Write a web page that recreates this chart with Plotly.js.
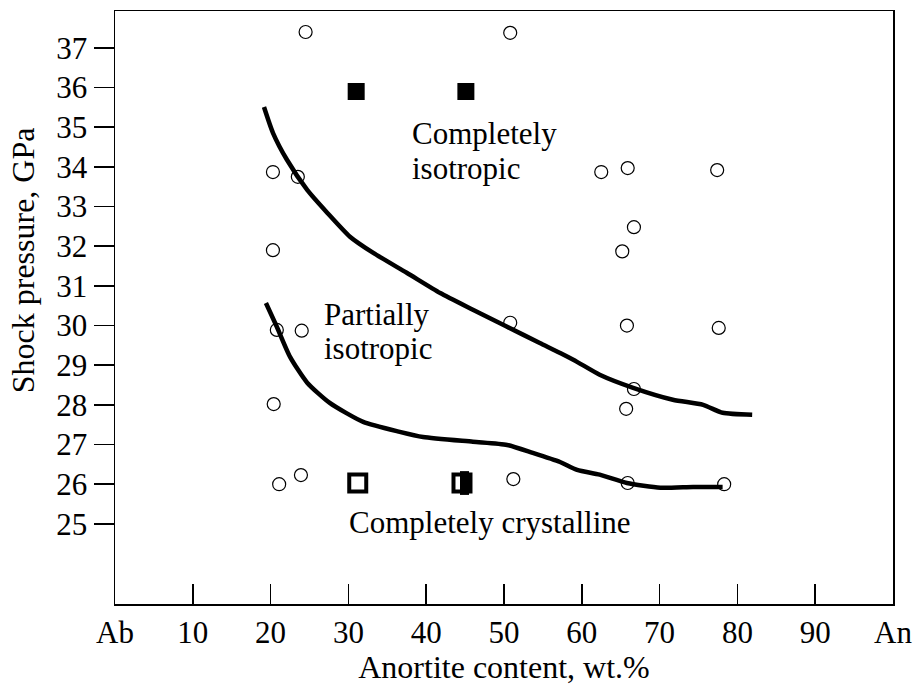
<!DOCTYPE html>
<html>
<head>
<meta charset="utf-8">
<script src="https://cdn.plot.ly/plotly-3.0.1.min.js"></script>
<style>html,body{margin:0;padding:0;background:#fff;}#chart{width:914px;height:685px;}</style>
</head>
<body>
<div id="chart"></div>
<script>
// Open circles (experimental points)
const circleX = [24.5, 50.8, 20.3, 23.5, 62.5, 65.9, 77.4, 66.7, 65.2, 20.3, 20.8, 24.0, 50.8, 65.8, 77.6, 66.7, 65.7, 20.4, 21.1, 23.9, 51.2, 65.9, 78.3];
const circleY = [37.4, 37.38, 33.87, 33.75, 33.87, 33.97, 33.92, 32.48, 31.87, 31.9, 29.89, 29.87, 30.07, 30.0, 29.94, 28.4, 27.9, 28.02, 26.0, 26.23, 26.13, 26.03, 26.0];
// Filled squares (completely isotropic)
const filledX = [31.0, 45.1];
const filledY = [35.9, 35.9];
// Open square (completely crystalline)
const openSqX = [31.2];
const openSqY = [26.03];
// Half-filled square (partially isotropic)
const halfX = [44.6];
const halfY = [26.03];
// Upper boundary curve
const upperX = [19.15, 20.3, 22.1, 24.7, 27.3, 30.2, 33.2, 37.5, 41.8, 46.0, 50.4, 54.6, 58.9, 62.3, 66.6, 71.7, 75.6, 78.1, 81.9];
const upperY = [35.51, 34.86, 34.18, 33.42, 32.84, 32.24, 31.83, 31.33, 30.82, 30.40, 29.97, 29.56, 29.14, 28.76, 28.43, 28.13, 28.00, 27.80, 27.75];
// Lower boundary curve
const lowerX = [19.4, 20.8, 22.5, 24.7, 27.6, 31.9, 36.6, 39.6, 46.0, 50.4, 53.7, 57.2, 59.4, 62.3, 65.8, 70.1, 74.3, 78.1];
const lowerY = [30.57, 29.97, 29.21, 28.56, 28.05, 27.57, 27.32, 27.19, 27.07, 26.99, 26.79, 26.56, 26.36, 26.24, 26.03, 25.91, 25.93, 25.93];
// Tick labels
const xTickVals = [0, 10, 20, 30, 40, 50, 60, 70, 80, 90, 100];
const xTickText = ['Ab', '10', '20', '30', '40', '50', '60', '70', '80', '90', 'An'];
const yTickVals = [25, 26, 27, 28, 29, 30, 31, 32, 33, 34, 35, 36, 37];
// Region labels (one entry per text line)
const labelText = ['Completely', 'isotropic', 'Partially', 'isotropic', 'Completely crystalline'];
const labelX = [37.9, 37.9, 26.6, 26.6, 29.8];
const labelY = [34.83, 33.97, 30.27, 29.41, 25.03];
const xTitle = 'Anortite content, wt.%';
const yTitle = 'Shock pressure, GPa';

const FONT = 'Liberation Serif, Times New Roman, serif';
const pxPerX = 778 / 100;

const traces = [
  {x: upperX, y: upperY, mode: 'lines', line: {color: '#000', width: 4.5, shape: 'spline', smoothing: 0.6}, hoverinfo: 'skip'},
  {x: lowerX, y: lowerY, mode: 'lines', line: {color: '#000', width: 4.5, shape: 'spline', smoothing: 0.6}, hoverinfo: 'skip'},
  {x: circleX, y: circleY, mode: 'markers', marker: {symbol: 'circle-open', size: 13, color: '#000', line: {width: 1.2, color: '#000'}}},
  {x: filledX, y: filledY, mode: 'markers', marker: {symbol: 'square', size: 17, color: '#000'}},
  {x: openSqX, y: openSqY, mode: 'markers', marker: {symbol: 'square-open', size: 17, color: '#000', line: {width: 4, color: '#000'}}},
  {x: halfX, y: halfY, mode: 'markers', marker: {symbol: 'square-open', size: 17, color: '#000', line: {width: 4, color: '#000'}}},
  {x: halfX.map(v => v + 2.5 / pxPerX), y: halfY, mode: 'markers', marker: {symbol: 'line-ns', size: 17, color: '#000', line: {width: 9, color: '#000'}}}
];

const annotations = labelText.map((t, i) => ({
  x: labelX[i], y: labelY[i], xref: 'x', yref: 'y', text: t,
  showarrow: false, xanchor: 'left', yanchor: 'middle', align: 'left',
  font: {family: FONT, size: 31, color: '#000'}
}));
annotations.push({
  x: -0.118, y: 0.58, xref: 'paper', yref: 'paper', text: yTitle, textangle: -90,
  showarrow: false, xanchor: 'center', yanchor: 'middle',
  font: {family: FONT, size: 32, color: '#000'}
});

const layout = {
  width: 914, height: 685,
  margin: {l: 115, r: 21, t: 11, b: 81},
  paper_bgcolor: '#fff', plot_bgcolor: '#fff',
  showlegend: false,
  font: {family: FONT, size: 31, color: '#000'},
  xaxis: {
    range: [0, 100], tickvals: xTickVals, ticktext: xTickText,
    ticks: 'inside', ticklen: 20, tickwidth: 1.5, tickcolor: '#000',
    showline: true, linecolor: '#000', linewidth: 1.5, mirror: true,
    showgrid: false, zeroline: false,
    tickfont: {family: FONT, size: 31, color: '#000'},
    title: {text: xTitle, font: {family: FONT, size: 32, color: '#000'}}
  },
  yaxis: {
    range: [22.98, 37.93], tickvals: yTickVals,
    ticks: 'outside', ticklen: 20, tickwidth: 1.5, tickcolor: '#000',
    showline: true, linecolor: '#000', linewidth: 1.5, mirror: true,
    showgrid: false, zeroline: false,
    tickfont: {family: FONT, size: 31, color: '#000'}
  },
  annotations: annotations
};

Plotly.newPlot('chart', traces, layout, {displayModeBar: false, staticPlot: true});
</script>
</body>
</html>
